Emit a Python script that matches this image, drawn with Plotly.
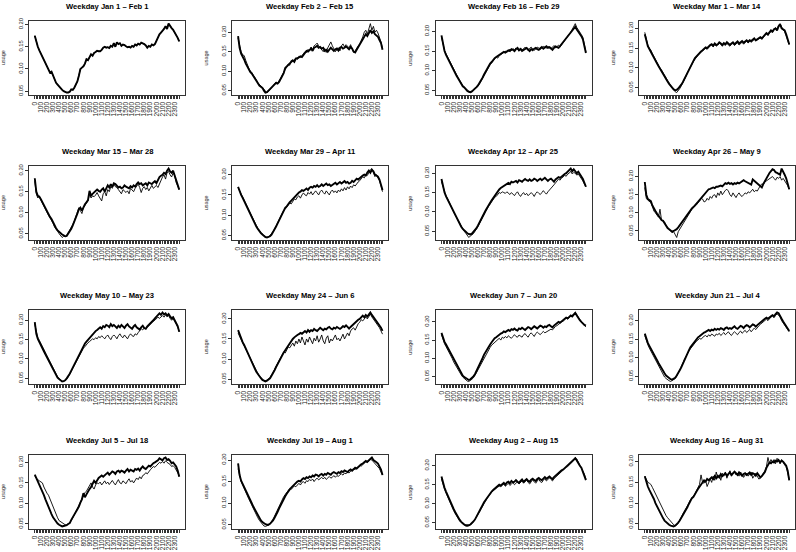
import plotly.graph_objects as go

# ---------------- categories / ticks ----------------
times = [h * 100 + m for h in range(24) for m in (0, 15, 30, 45)]
categories = [str(t) for t in times]
tick_text = [c if t % 100 == 0 else "" for t, c in zip(times, categories)]
y_tick_vals = [0.05, 0.10, 0.15, 0.20]
y_tick_text = ["0.05", "0.10", "0.15", "0.20"]

titles = [
    "Weekday Jan 1 \u2013 Feb 1", "Weekday Feb 2 \u2013 Feb 15", "Weekday Feb 16 \u2013 Feb 29", "Weekday Mar 1 \u2013 Mar 14",
    "Weekday Mar 15 \u2013 Mar 28", "Weekday Mar 29 \u2013 Apr 11", "Weekday Apr 12 \u2013 Apr 25", "Weekday Apr 26 \u2013 May 9",
    "Weekday May 10 \u2013 May 23", "Weekday May 24 \u2013 Jun 6", "Weekday Jun 7 \u2013 Jun 20", "Weekday Jun 21 \u2013 Jul 4",
    "Weekday Jul 5 \u2013 Jul 18", "Weekday Jul 19 \u2013 Aug 1", "Weekday Aug 2 \u2013 Aug 15", "Weekday Aug 16 \u2013 Aug 31",
]

# ---------------- data (usage, 15-minute steps) ----------------
s01_thick = [.175,.160,.150,.142,.135,.128,.120,.113,.106,.098,.092,.094,.085,.076,.069,.065,
             .060,.057,.053,.050,.048,.047,.047,.049,.054,.053,.058,.064,.072,.085,.100,.103,
             .106,.112,.122,.120,.128,.133,.130,.136,.138,.141,.140,.140,.143,.148,.150,.148,
             .149,.147,.152,.150,.158,.150,.160,.156,.158,.152,.155,.154,.151,.149,.150,.148,
             .152,.150,.155,.153,.157,.155,.159,.158,.156,.153,.148,.152,.150,.155,.153,.156,
             .163,.172,.178,.182,.185,.190,.196,.190,.202,.196,.192,.188,.183,.178,.170,.162]
s01_thin = s01_thick

s02_thick = [.190,.160,.145,.138,.130,.120,.112,.105,.098,.094,.088,.082,.075,.068,.063,.060,
             .057,.050,.045,.046,.050,.053,.057,.060,.065,.070,.068,.072,.080,.087,.095,.108,
             .112,.116,.120,.126,.128,.124,.132,.133,.135,.138,.136,.142,.148,.152,.150,.155,
             .158,.152,.160,.162,.165,.160,.162,.158,.160,.152,.155,.150,.155,.160,.156,.152,
             .156,.158,.153,.160,.162,.158,.160,.163,.160,.156,.162,.158,.150,.148,.155,.162,
             .168,.175,.182,.190,.195,.190,.198,.205,.198,.202,.195,.192,.188,.180,.172,.155]
s02_thin = [.185,.165,.150,.142,.140,.128,.115,.108,.100,.097,.090,.085,.078,.070,.066,.062,
            .060,.054,.048,.045,.048,.052,.056,.062,.068,.072,.070,.075,.082,.090,.098,.105,
            .110,.118,.115,.128,.125,.130,.134,.130,.138,.135,.140,.145,.150,.148,.156,.152,
            .162,.155,.165,.168,.172,.165,.160,.155,.150,.158,.148,.160,.168,.175,.165,.158,
            .150,.155,.160,.152,.165,.170,.162,.168,.165,.160,.168,.155,.148,.152,.160,.165,
            .170,.178,.188,.200,.205,.195,.210,.222,.205,.215,.200,.205,.198,.188,.175,.158]

s03_thick = [.190,.165,.150,.140,.132,.125,.115,.108,.100,.092,.086,.080,.072,.066,.060,.057,
             .052,.048,.046,.045,.047,.050,.053,.058,.062,.068,.075,.082,.090,.098,.105,.112,
             .118,.122,.128,.132,.135,.138,.140,.142,.145,.148,.146,.150,.152,.150,.155,.153,
             .150,.155,.158,.152,.155,.150,.153,.156,.158,.154,.150,.155,.152,.156,.158,.155,
             .153,.157,.160,.156,.158,.162,.158,.160,.157,.153,.158,.162,.160,.158,.163,.168,
             .172,.175,.180,.185,.190,.195,.200,.208,.212,.205,.200,.195,.188,.180,.165,.145]
s03_thin = [.185,.168,.152,.143,.135,.126,.118,.110,.103,.095,.088,.082,.075,.068,.062,.058,
            .054,.050,.047,.044,.046,.049,.052,.056,.060,.066,.073,.080,.088,.095,.103,.110,
            .115,.120,.126,.130,.134,.132,.138,.140,.143,.146,.150,.147,.150,.155,.151,.156,
            .153,.158,.154,.150,.158,.153,.156,.160,.155,.152,.157,.160,.156,.152,.155,.160,
            .158,.154,.158,.162,.160,.157,.162,.158,.155,.160,.164,.158,.162,.165,.160,.166,
            .170,.178,.182,.188,.193,.198,.205,.215,.220,.210,.205,.200,.192,.185,.168,.148]

s04_thick = [.185,.168,.155,.148,.140,.135,.125,.120,.112,.105,.098,.092,.085,.078,.072,.066,
             .060,.055,.050,.046,.044,.045,.048,.052,.058,.064,.072,.080,.090,.098,.105,.112,
             .118,.125,.130,.135,.138,.142,.145,.150,.152,.150,.155,.158,.160,.156,.162,.158,
             .160,.165,.162,.158,.163,.160,.165,.162,.158,.162,.165,.160,.163,.167,.162,.165,
             .168,.164,.168,.170,.166,.170,.168,.172,.175,.170,.172,.176,.178,.175,.180,.185,
             .188,.185,.190,.195,.192,.198,.200,.195,.205,.210,.200,.198,.195,.185,.172,.160]
s04_thin = [.190,.170,.158,.150,.145,.136,.128,.122,.115,.108,.100,.095,.088,.080,.074,.068,
            .062,.056,.050,.045,.040,.038,.042,.048,.055,.062,.070,.078,.088,.096,.102,.110,
            .116,.122,.128,.132,.136,.140,.143,.148,.150,.147,.153,.156,.158,.153,.160,.155,
            .158,.162,.160,.155,.160,.157,.162,.158,.155,.160,.162,.157,.160,.164,.158,.162,
            .165,.160,.165,.168,.163,.168,.165,.170,.172,.168,.170,.174,.176,.172,.178,.182,
            .186,.182,.188,.192,.190,.196,.202,.198,.208,.212,.202,.196,.192,.182,.170,.158]

s05_thick = [.182,.150,.140,.138,.132,.125,.118,.110,.102,.095,.090,.085,.078,.068,.063,.058,
             .054,.050,.048,.046,.044,.045,.050,.055,.062,.070,.078,.088,.098,.108,.112,.105,
             .115,.120,.125,.130,.152,.140,.145,.148,.150,.155,.152,.150,.155,.158,.150,.160,
             .165,.160,.168,.162,.170,.168,.165,.160,.162,.158,.160,.165,.162,.160,.158,.163,
             .160,.165,.162,.168,.172,.168,.170,.165,.168,.170,.165,.172,.170,.168,.172,.175,
             .170,.178,.185,.188,.190,.195,.192,.200,.205,.198,.195,.200,.190,.175,.165,.155]
s05_thin = [.175,.145,.135,.140,.130,.122,.116,.108,.100,.094,.088,.082,.075,.066,.062,.056,
            .050,.045,.041,.044,.043,.046,.052,.058,.065,.072,.080,.090,.100,.112,.105,.098,
            .112,.118,.122,.128,.145,.135,.140,.138,.142,.148,.140,.132,.128,.145,.150,.140,
            .155,.150,.162,.158,.168,.162,.160,.155,.150,.145,.155,.150,.148,.152,.145,.158,
            .155,.150,.158,.162,.168,.160,.148,.158,.162,.155,.160,.152,.160,.165,.158,.162,
            .165,.160,.170,.180,.185,.190,.180,.195,.198,.190,.185,.195,.188,.172,.162,.155]

s06_thick = [.170,.158,.150,.143,.135,.126,.118,.110,.100,.092,.086,.080,.072,.066,.060,.056,
             .052,.048,.046,.045,.046,.048,.052,.058,.064,.072,.080,.088,.096,.104,.110,.118,
             .122,.128,.132,.136,.140,.145,.148,.152,.156,.158,.162,.160,.164,.166,.162,.168,
             .170,.168,.172,.170,.174,.170,.172,.176,.172,.175,.178,.174,.176,.172,.175,.178,
             .180,.176,.178,.182,.178,.180,.184,.180,.182,.178,.180,.185,.182,.186,.190,.188,
             .192,.195,.198,.200,.198,.205,.210,.205,.212,.208,.200,.198,.195,.188,.175,.162]
s06_thin = [.168,.160,.152,.145,.138,.128,.120,.112,.104,.095,.088,.082,.075,.068,.062,.058,
            .054,.050,.047,.046,.047,.050,.054,.060,.066,.074,.082,.090,.098,.105,.112,.115,
            .120,.125,.130,.128,.135,.140,.138,.145,.148,.142,.150,.155,.150,.148,.156,.152,
            .158,.150,.155,.160,.155,.150,.158,.162,.156,.152,.160,.155,.150,.158,.162,.156,
            .160,.155,.162,.158,.165,.160,.168,.162,.170,.165,.172,.168,.175,.172,.178,.182,
            .185,.190,.195,.192,.200,.198,.205,.212,.215,.205,.195,.200,.192,.185,.172,.158]

s07_thick = [.185,.165,.150,.140,.132,.124,.116,.108,.098,.090,.082,.075,.068,.062,.056,.052,
             .048,.045,.043,.042,.044,.048,.052,.058,.065,.072,.080,.088,.096,.104,.112,.118,
             .124,.130,.136,.142,.148,.152,.158,.162,.165,.168,.170,.172,.175,.172,.178,.176,
             .178,.180,.176,.182,.180,.178,.182,.185,.182,.180,.184,.180,.182,.186,.184,.180,
             .183,.186,.182,.185,.188,.184,.180,.184,.186,.182,.178,.184,.186,.190,.188,.192,
             .195,.198,.200,.205,.208,.212,.205,.210,.205,.200,.204,.198,.192,.185,.175,.165]
s07_thin = [.178,.165,.152,.142,.135,.125,.118,.110,.100,.092,.085,.078,.070,.062,.055,.050,
            .045,.040,.034,.038,.040,.044,.050,.055,.062,.070,.078,.085,.092,.100,.108,.115,
            .120,.126,.132,.138,.140,.145,.150,.148,.152,.150,.148,.152,.148,.145,.150,.146,
            .142,.148,.152,.145,.140,.146,.150,.144,.148,.142,.145,.150,.146,.140,.148,.152,
            .148,.145,.150,.155,.150,.146,.152,.156,.160,.165,.170,.175,.180,.185,.182,.188,
            .190,.195,.192,.198,.200,.205,.198,.202,.200,.195,.198,.192,.188,.180,.172,.165]

s08_thick = [.185,.150,.138,.135,.132,.120,.110,.105,.098,.092,.085,.080,.078,.070,.062,.058,
             .055,.050,.048,.050,.052,.055,.060,.066,.072,.078,.085,.090,.096,.102,.108,.112,
             .116,.120,.125,.130,.135,.140,.145,.150,.158,.162,.165,.166,.168,.170,.168,.172,
             .172,.174,.175,.173,.178,.182,.180,.183,.180,.182,.178,.182,.180,.183,.181,.184,
             .186,.190,.187,.185,.182,.180,.178,.192,.188,.184,.180,.176,.172,.170,.180,.188,
             .195,.200,.210,.215,.220,.218,.212,.210,.208,.205,.222,.215,.205,.195,.180,.165]
s08_thin = [.170,.140,.135,.130,.128,.118,.105,.100,.095,.088,.110,.080,.078,.075,.065,.060,
            .055,.050,.045,.048,.040,.032,.048,.055,.062,.070,.078,.085,.092,.098,.104,.110,
            .115,.118,.122,.128,.132,.140,.138,.130,.132,.140,.135,.145,.140,.148,.150,.142,
            .155,.148,.160,.150,.158,.162,.165,.160,.150,.145,.155,.148,.142,.150,.155,.148,
            .145,.150,.155,.152,.158,.155,.160,.165,.158,.162,.160,.170,.175,.180,.178,.185,
            .188,.190,.195,.198,.200,.195,.190,.198,.195,.200,.190,.195,.188,.185,.175,.165]

s09_thick = [.195,.165,.152,.145,.138,.130,.120,.112,.104,.096,.088,.080,.072,.064,.058,.052,
             .048,.044,.042,.043,.045,.050,.055,.062,.070,.078,.086,.095,.104,.112,.120,.128,
             .134,.140,.145,.150,.155,.160,.165,.170,.172,.175,.178,.182,.178,.185,.182,.188,
             .186,.182,.190,.185,.188,.184,.180,.186,.182,.188,.185,.180,.186,.190,.184,.182,
             .178,.184,.188,.182,.180,.176,.182,.186,.180,.178,.184,.188,.190,.195,.200,.205,
             .210,.215,.218,.214,.220,.215,.218,.212,.216,.210,.205,.208,.200,.195,.185,.170]
s09_thin = [.190,.168,.155,.148,.140,.132,.122,.114,.106,.098,.090,.082,.074,.066,.060,.054,
            .050,.046,.043,.042,.044,.048,.054,.060,.068,.076,.084,.092,.100,.108,.115,.122,
            .128,.132,.138,.142,.145,.148,.152,.150,.155,.152,.158,.155,.160,.156,.152,.158,
            .162,.155,.150,.158,.162,.158,.152,.160,.165,.158,.155,.162,.158,.152,.160,.165,
            .160,.158,.165,.162,.168,.172,.178,.175,.180,.178,.182,.186,.190,.195,.198,.200,
            .205,.208,.205,.210,.212,.208,.214,.210,.212,.205,.200,.204,.198,.190,.182,.172]

s10_thick = [.172,.160,.150,.142,.135,.126,.118,.110,.100,.092,.084,.076,.068,.062,.056,.052,
             .048,.045,.044,.046,.048,.052,.058,.064,.072,.080,.088,.096,.104,.110,.116,.122,
             .128,.134,.140,.145,.150,.154,.158,.160,.162,.165,.163,.168,.170,.166,.172,.168,
             .172,.170,.175,.172,.170,.174,.178,.175,.172,.176,.174,.178,.180,.176,.174,.178,
             .176,.180,.178,.175,.178,.182,.180,.184,.180,.176,.180,.184,.186,.190,.194,.198,
             .200,.205,.208,.204,.210,.206,.212,.216,.210,.205,.200,.196,.190,.185,.178,.170]
s10_thin = [.165,.158,.148,.140,.132,.124,.116,.108,.100,.092,.085,.078,.070,.064,.058,.053,
            .049,.046,.045,.047,.050,.054,.060,.066,.074,.082,.090,.098,.105,.112,.118,.115,
            .125,.130,.128,.135,.140,.132,.145,.138,.150,.140,.155,.145,.135,.150,.142,.155,
            .148,.138,.152,.145,.158,.142,.150,.160,.145,.138,.152,.158,.140,.150,.145,.155,
            .160,.148,.152,.145,.155,.162,.150,.160,.165,.158,.170,.175,.178,.172,.182,.188,
            .192,.198,.195,.200,.205,.200,.208,.212,.205,.200,.196,.190,.185,.178,.170,.162]

s11_thick = [.170,.155,.145,.138,.130,.122,.114,.105,.096,.088,.080,.072,.064,.058,.052,.048,
             .045,.042,.040,.042,.045,.050,.056,.064,.072,.080,.090,.100,.110,.118,.125,.132,
             .138,.144,.150,.155,.158,.162,.165,.168,.170,.174,.172,.176,.178,.175,.180,.178,
             .182,.178,.176,.182,.180,.184,.182,.178,.182,.186,.184,.180,.184,.188,.185,.182,
             .186,.190,.188,.184,.188,.186,.190,.192,.188,.185,.190,.194,.196,.200,.198,.202,
             .205,.208,.212,.210,.214,.218,.215,.220,.225,.218,.210,.205,.200,.195,.192,.190]
s11_thin = [.165,.150,.140,.132,.125,.116,.108,.100,.090,.082,.075,.068,.060,.054,.048,.044,
            .040,.037,.036,.038,.042,.046,.052,.060,.068,.076,.085,.094,.102,.110,.118,.124,
            .130,.136,.140,.145,.148,.152,.155,.150,.158,.155,.160,.156,.162,.158,.155,.160,
            .165,.160,.158,.164,.162,.158,.165,.168,.162,.158,.166,.170,.165,.160,.168,.172,
            .168,.165,.170,.174,.170,.172,.176,.178,.180,.178,.184,.188,.190,.194,.196,.200,
            .202,.206,.210,.208,.212,.215,.218,.222,.226,.220,.212,.206,.200,.195,.190,.186]

s12_thick = [.165,.150,.140,.132,.125,.118,.110,.102,.094,.086,.078,.070,.064,.058,.052,.048,
             .045,.042,.041,.043,.046,.052,.058,.066,.074,.084,.094,.104,.112,.120,.128,.134,
             .140,.146,.150,.155,.158,.162,.165,.168,.170,.172,.175,.172,.176,.174,.178,.175,
             .178,.176,.180,.178,.175,.180,.182,.178,.180,.178,.182,.185,.180,.178,.182,.186,
             .184,.180,.185,.188,.186,.182,.186,.190,.188,.184,.188,.192,.195,.198,.202,.205,
             .208,.205,.210,.212,.215,.212,.218,.222,.220,.214,.205,.198,.192,.185,.178,.172]
s12_thin = [.160,.145,.135,.126,.118,.110,.100,.092,.084,.076,.068,.060,.054,.048,.044,.040,
            .038,.036,.038,.040,.044,.050,.058,.066,.075,.085,.095,.104,.112,.118,.124,.130,
            .136,.140,.145,.148,.152,.150,.155,.158,.160,.156,.162,.158,.164,.160,.158,.164,
            .162,.166,.160,.164,.168,.162,.166,.170,.164,.160,.166,.170,.166,.162,.168,.172,
            .166,.170,.174,.168,.172,.176,.170,.176,.180,.176,.182,.186,.190,.194,.198,.200,
            .204,.200,.206,.210,.212,.208,.214,.218,.215,.210,.200,.195,.188,.182,.176,.170]

s13_thick = [.170,.162,.155,.148,.140,.130,.120,.110,.100,.092,.082,.074,.066,.060,.055,.051,
             .048,.045,.044,.045,.046,.047,.050,.052,.060,.066,.072,.078,.085,.092,.102,.110,
             .125,.115,.122,.130,.135,.140,.150,.155,.150,.158,.162,.165,.168,.165,.170,.172,
             .175,.170,.174,.178,.176,.172,.178,.180,.176,.180,.178,.175,.180,.184,.178,.182,
             .180,.178,.184,.182,.185,.180,.186,.190,.186,.184,.188,.192,.190,.195,.198,.200,
             .202,.205,.210,.208,.205,.210,.212,.206,.208,.204,.198,.200,.195,.190,.180,.165]
s13_thin = [.165,.160,.158,.155,.152,.150,.140,.130,.125,.120,.110,.100,.092,.085,.075,.065,
            .058,.055,.052,.050,.048,.048,.050,.053,.058,.064,.072,.080,.088,.096,.105,.112,
            .120,.126,.130,.138,.142,.150,.140,.135,.145,.150,.148,.152,.145,.150,.155,.148,
            .152,.146,.150,.156,.150,.145,.152,.158,.150,.148,.155,.152,.148,.155,.160,.152,
            .156,.150,.158,.162,.158,.165,.160,.168,.170,.175,.172,.178,.182,.186,.190,.188,
            .192,.196,.200,.198,.202,.198,.204,.200,.198,.195,.190,.192,.188,.182,.175,.168]

s14_thick = [.192,.165,.152,.145,.138,.130,.122,.115,.108,.100,.092,.085,.078,.072,.066,.060,
             .056,.053,.051,.050,.050,.052,.055,.060,.066,.072,.080,.088,.096,.104,.110,.116,
             .122,.128,.132,.136,.140,.142,.146,.150,.152,.150,.155,.158,.156,.160,.158,.162,
             .160,.164,.162,.166,.165,.162,.166,.168,.164,.168,.166,.170,.168,.166,.170,.172,
             .170,.168,.172,.170,.174,.172,.176,.174,.172,.176,.178,.175,.178,.182,.180,.184,
             .186,.190,.192,.195,.198,.196,.200,.204,.206,.200,.198,.195,.192,.185,.178,.165]
s14_thin = [.180,.160,.150,.142,.135,.128,.118,.110,.102,.094,.086,.078,.072,.066,.060,.055,
            .050,.047,.046,.047,.049,.052,.057,.063,.070,.078,.086,.094,.102,.110,.115,.120,
            .125,.130,.134,.132,.136,.140,.138,.142,.146,.142,.148,.150,.146,.152,.150,.155,
            .152,.156,.150,.155,.158,.154,.158,.160,.156,.160,.155,.158,.162,.158,.160,.164,
            .160,.164,.162,.166,.168,.165,.170,.168,.172,.170,.175,.178,.180,.178,.182,.185,
            .188,.186,.190,.194,.196,.194,.198,.202,.200,.196,.194,.190,.186,.180,.172,.165]

s15_thick = [.172,.155,.142,.132,.122,.112,.102,.094,.086,.078,.070,.063,.057,.052,.048,.045,
             .043,.042,.043,.045,.048,.053,.058,.065,.072,.080,.088,.096,.104,.110,.116,.122,
             .128,.132,.136,.140,.143,.146,.150,.148,.152,.155,.150,.156,.158,.154,.160,.156,
             .158,.162,.158,.155,.160,.164,.158,.162,.165,.160,.158,.163,.166,.162,.160,.165,
             .168,.164,.162,.166,.170,.166,.168,.172,.168,.165,.170,.174,.176,.180,.184,.188,
             .190,.194,.198,.200,.204,.208,.212,.216,.220,.214,.206,.200,.195,.185,.175,.162]
s15_thin = [.165,.150,.138,.128,.118,.108,.098,.090,.082,.074,.066,.060,.054,.050,.046,.043,
            .041,.040,.042,.044,.047,.052,.058,.064,.070,.078,.086,.094,.102,.108,.114,.120,
            .126,.130,.134,.138,.140,.144,.146,.145,.148,.152,.146,.150,.154,.148,.152,.156,
            .150,.155,.158,.152,.155,.160,.154,.158,.162,.156,.152,.158,.162,.158,.154,.160,
            .164,.158,.156,.162,.166,.160,.164,.168,.164,.160,.166,.170,.172,.176,.180,.185,
            .188,.192,.196,.198,.202,.206,.210,.214,.222,.218,.210,.202,.196,.188,.178,.165]

s16_thick = [.165,.150,.140,.132,.125,.118,.110,.100,.092,.085,.078,.070,.064,.058,.054,.050,
             .048,.046,.045,.044,.046,.049,.053,.058,.064,.070,.076,.082,.090,.098,.106,.112,
             .115,.120,.128,.134,.140,.146,.150,.155,.152,.158,.155,.160,.162,.158,.165,.160,
             .166,.162,.170,.165,.168,.172,.166,.170,.174,.168,.172,.176,.172,.168,.174,.170,
             .166,.170,.172,.168,.170,.174,.168,.172,.170,.166,.172,.168,.162,.165,.170,.175,
             .185,.192,.198,.196,.200,.198,.202,.200,.204,.198,.202,.200,.196,.190,.178,.155]
s16_thin = [.165,.158,.150,.148,.145,.138,.130,.122,.115,.108,.100,.092,.085,.076,.070,.065,
            .060,.055,.052,.048,.045,.047,.052,.058,.066,.074,.080,.085,.092,.100,.108,.112,
            .118,.122,.130,.138,.145,.168,.150,.148,.155,.140,.152,.158,.150,.165,.155,.175,
            .160,.168,.155,.172,.165,.175,.160,.168,.178,.165,.170,.175,.168,.172,.165,.175,
            .170,.162,.168,.172,.165,.170,.175,.160,.168,.172,.165,.158,.160,.168,.172,.178,
            .188,.210,.195,.205,.198,.205,.195,.208,.200,.195,.205,.198,.192,.188,.175,.158]

thick_series = [s01_thick, s02_thick, s03_thick, s04_thick, s05_thick, s06_thick, s07_thick, s08_thick,
                s09_thick, s10_thick, s11_thick, s12_thick, s13_thick, s14_thick, s15_thick, s16_thick]
thin_series = [s01_thin, s02_thin, s03_thin, s04_thin, s05_thin, s06_thin, s07_thin, s08_thin,
               s09_thin, s10_thin, s11_thin, s12_thin, s13_thin, s14_thin, s15_thin, s16_thin]

# ---------------- layout geometry (pixels) ----------------
W, H = 796, 552
col_left = [29, 232.3, 435.7, 639]
row_top = [18, 164, 309, 455]
PW, PH = 156, 75

FONT = "Liberation Sans, Arial, sans-serif"
AX = "#333333"

fig = go.Figure()
layout = dict(
    width=W, height=H, margin=dict(l=0, r=0, t=0, b=0),
    paper_bgcolor="white", plot_bgcolor="white", showlegend=False,
    font=dict(family=FONT, color="black"),
)
annotations = []

for k in range(16):
    r, c = divmod(k, 4)
    left, top = col_left[c], row_top[r]
    sfx = "" if k == 0 else str(k + 1)
    xa, ya = "x" + sfx, "y" + sfx

    thick, thin = thick_series[k], thin_series[k]
    fig.add_trace(go.Scatter(x=categories, y=thin, mode="lines", xaxis=xa, yaxis=ya,
                             line=dict(color="black", width=0.9), hoverinfo="skip"))
    fig.add_trace(go.Scatter(x=categories, y=thick, mode="lines", xaxis=xa, yaxis=ya,
                             line=dict(color="black", width=1.9), hoverinfo="skip"))

    lo = min(min(thick), min(thin))
    hi = max(max(thick), max(thin))
    pad = 0.04 * (hi - lo)

    layout["xaxis" + sfx] = dict(
        domain=[left / W, (left + PW) / W], anchor=ya,
        type="category", categoryorder="array", categoryarray=categories,
        range=[-3.8, len(categories) - 1 + 3.8],
        tickmode="array", tickvals=categories, ticktext=tick_text,
        ticks="outside", ticklen=3, tickwidth=1, tickcolor=AX,
        tickangle=-90, tickfont=dict(size=6.5, family=FONT, color="#222"),
        showline=True, linecolor=AX, linewidth=1, mirror=True,
        showgrid=False, zeroline=False, fixedrange=True,
    )
    layout["yaxis" + sfx] = dict(
        domain=[1 - (top + PH) / H, 1 - top / H], anchor=xa,
        range=[lo - pad, hi + pad],
        tickmode="array", tickvals=y_tick_vals, ticktext=y_tick_text,
        ticks="outside", ticklen=3, tickwidth=1, tickcolor=AX,
        tickangle=-90, tickfont=dict(size=5.8, family=FONT, color="#222"),
        showline=True, linecolor=AX, linewidth=1, mirror=True,
        showgrid=False, zeroline=False, fixedrange=True,
    )
    annotations.append(dict(
        text="<b>" + titles[k] + "</b>", xref="paper", yref="paper",
        x=(left + PW / 2) / W, y=1 - (top - 14) / H, xanchor="center", yanchor="middle",
        showarrow=False, font=dict(size=7.6, family=FONT, color="black"),
    ))
    annotations.append(dict(
        text="usage", xref="paper", yref="paper",
        x=(left - 26) / W, y=1 - (top + PH / 2) / H, xanchor="center", yanchor="middle",
        textangle=-90, showarrow=False, font=dict(size=5.5, family=FONT, color="#333"),
    ))

layout["annotations"] = annotations
fig.update_layout(**layout)
fig.write_html("out.html", config={"displayModeBar": False},
               post_script="document.body.style.margin='0px';")
